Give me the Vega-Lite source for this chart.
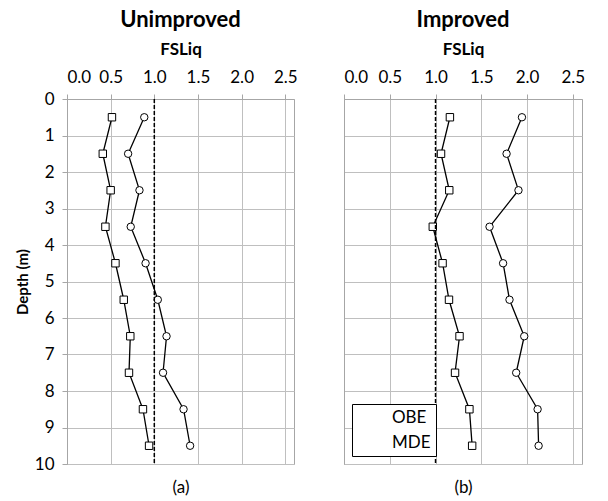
{
  "$schema": "https://vega.github.io/schema/vega-lite/v6.json",
  "background": "white",
  "padding": {"left": 14, "right": 5, "top": 8, "bottom": 5},
  "config": {
    "font": "Lato",
    "view": {"stroke": "#a6a6a6"},
    "axis": {"labelFont": "Lato", "titleFont": "Lato", "labelFontSize": 17, "labelColor": "black", "gridColor": "#bfbfbf", "domainColor": "#a6a6a6", "tickColor": "#a6a6a6", "titleColor": "black"},
    "title": {"font": "Lato", "fontSize": 22, "fontWeight": "bold", "color": "black"},
    "legend": {"labelFont": "Lato"}
  },
  "datasets": {
    "d": [
      {"panel": "U", "series": "OBE", "depth": 0.5, "fs": 0.885},
      {"panel": "U", "series": "OBE", "depth": 1.5, "fs": 0.70},
      {"panel": "U", "series": "OBE", "depth": 2.5, "fs": 0.83},
      {"panel": "U", "series": "OBE", "depth": 3.5, "fs": 0.73},
      {"panel": "U", "series": "OBE", "depth": 4.5, "fs": 0.90},
      {"panel": "U", "series": "OBE", "depth": 5.5, "fs": 1.04},
      {"panel": "U", "series": "OBE", "depth": 6.5, "fs": 1.14},
      {"panel": "U", "series": "OBE", "depth": 7.5, "fs": 1.10},
      {"panel": "U", "series": "OBE", "depth": 8.5, "fs": 1.335},
      {"panel": "U", "series": "OBE", "depth": 9.5, "fs": 1.41},
      {"panel": "U", "series": "MDE", "depth": 0.5, "fs": 0.515},
      {"panel": "U", "series": "MDE", "depth": 1.5, "fs": 0.41},
      {"panel": "U", "series": "MDE", "depth": 2.5, "fs": 0.50},
      {"panel": "U", "series": "MDE", "depth": 3.5, "fs": 0.44},
      {"panel": "U", "series": "MDE", "depth": 4.5, "fs": 0.555},
      {"panel": "U", "series": "MDE", "depth": 5.5, "fs": 0.65},
      {"panel": "U", "series": "MDE", "depth": 6.5, "fs": 0.725},
      {"panel": "U", "series": "MDE", "depth": 7.5, "fs": 0.71},
      {"panel": "U", "series": "MDE", "depth": 8.5, "fs": 0.87},
      {"panel": "U", "series": "MDE", "depth": 9.5, "fs": 0.94},
      {"panel": "I", "series": "OBE", "depth": 0.5, "fs": 1.944},
      {"panel": "I", "series": "OBE", "depth": 1.5, "fs": 1.776},
      {"panel": "I", "series": "OBE", "depth": 2.5, "fs": 1.906},
      {"panel": "I", "series": "OBE", "depth": 3.5, "fs": 1.59},
      {"panel": "I", "series": "OBE", "depth": 4.5, "fs": 1.738},
      {"panel": "I", "series": "OBE", "depth": 5.5, "fs": 1.808},
      {"panel": "I", "series": "OBE", "depth": 6.5, "fs": 1.969},
      {"panel": "I", "series": "OBE", "depth": 7.5, "fs": 1.881},
      {"panel": "I", "series": "OBE", "depth": 8.5, "fs": 2.115},
      {"panel": "I", "series": "OBE", "depth": 9.5, "fs": 2.126},
      {"panel": "I", "series": "MDE", "depth": 0.5, "fs": 1.157},
      {"panel": "I", "series": "MDE", "depth": 1.5, "fs": 1.06},
      {"panel": "I", "series": "MDE", "depth": 2.5, "fs": 1.15},
      {"panel": "I", "series": "MDE", "depth": 3.5, "fs": 0.97},
      {"panel": "I", "series": "MDE", "depth": 4.5, "fs": 1.077},
      {"panel": "I", "series": "MDE", "depth": 5.5, "fs": 1.147},
      {"panel": "I", "series": "MDE", "depth": 6.5, "fs": 1.262},
      {"panel": "I", "series": "MDE", "depth": 7.5, "fs": 1.213},
      {"panel": "I", "series": "MDE", "depth": 8.5, "fs": 1.37},
      {"panel": "I", "series": "MDE", "depth": 9.5, "fs": 1.40}
    ]
  },
  "resolve": {"scale": {"shape": "independent"}, "legend": {"shape": "independent"}},
  "spacing": 45,
  "hconcat": [
    {
      "width": 227, "height": 365,
      "title": {"text": "Unimproved", "offset": 8},
      "data": {"name": "d"},
      "transform": [{"filter": "datum.panel === 'U'"}],
      "resolve": {"axis": {"x": "independent"}},
      "layer": [
        {
          "mark": {"type": "line", "color": "black", "strokeWidth": 1.3},
          "encoding": {
            "x": {"field": "fs", "type": "quantitative", "scale": {"domain": [0, 2.5]},
              "axis": {"orient": "top", "values": [0, 0.5, 1, 1.5, 2, 2.5], "format": ".1f", "grid": true, "title": "FSLiq", "titleFontSize": 17, "titleFontWeight": "bold", "titlePadding": 10, "labelPadding": 8}},
            "y": {"field": "depth", "type": "quantitative", "scale": {"domain": [0, 10], "reverse": true},
              "axis": {"values": [0,1,2,3,4,5,6,7,8,9,10], "grid": true, "title": "Depth (m)", "titleFontSize": 15, "titleFontWeight": "bold", "titlePadding": 4, "labelPadding": 8}},
            "detail": {"field": "series"},
            "order": {"field": "depth"}
          }
        },
        {
          "mark": {"type": "point", "filled": false, "color": "black", "fill": "white", "stroke": "black", "strokeWidth": 1, "size": 55, "opacity": 1, "fillOpacity": 1},
          "encoding": {
            "x": {"field": "fs", "type": "quantitative", "axis": null},
            "y": {"field": "depth", "type": "quantitative", "scale": {"domain": [0, 10], "reverse": true},
              "axis": {"values": [0,1,2,3,4,5,6,7,8,9,10], "grid": true, "title": "Depth (m)", "titleFontSize": 15, "titleFontWeight": "bold", "titlePadding": 4, "labelPadding": 8}},
            "shape": {"field": "series", "type": "nominal", "scale": {"domain": ["OBE", "MDE"], "range": ["circle", "square"]}, "legend": null}
          }
        },
        {
          "data": {"values": [{"v": 1}]},
          "mark": {"type": "rule", "color": "black", "strokeWidth": 1.5, "strokeDash": [4, 2]},
          "encoding": {
            "x": {"datum": 1, "type": "quantitative", "axis": {"orient": "bottom", "labels": false, "ticks": false, "domain": false, "grid": false, "title": "(a)", "titleFontSize": 17, "titleFontWeight": "normal", "titlePadding": 15}}
          }
        }
      ]
    },
    {
      "width": 238, "height": 365,
      "title": {"text": "Improved", "offset": 8},
      "data": {"name": "d"},
      "transform": [{"filter": "datum.panel === 'I'"}],
      "resolve": {"axis": {"x": "independent"}},
      "layer": [
        {
          "mark": {"type": "line", "color": "black", "strokeWidth": 1.3},
          "encoding": {
            "x": {"field": "fs", "type": "quantitative", "scale": {"domain": [0, 2.5]},
              "axis": {"orient": "top", "values": [0, 0.5, 1, 1.5, 2, 2.5], "format": ".1f", "grid": true, "title": "FSLiq", "titleFontSize": 17, "titleFontWeight": "bold", "titlePadding": 10, "labelPadding": 8}},
            "y": {"field": "depth", "type": "quantitative", "scale": {"domain": [0, 10], "reverse": true},
              "axis": {"values": [0,1,2,3,4,5,6,7,8,9,10], "grid": true, "labels": false, "ticks": false, "title": null}},
            "detail": {"field": "series"},
            "order": {"field": "depth"}
          }
        },
        {
          "mark": {"type": "point", "filled": false, "color": "black", "fill": "white", "stroke": "black", "strokeWidth": 1, "size": 55, "opacity": 1, "fillOpacity": 1},
          "encoding": {
            "x": {"field": "fs", "type": "quantitative", "axis": null},
            "y": {"field": "depth", "type": "quantitative", "scale": {"domain": [0, 10], "reverse": true},
              "axis": {"values": [0,1,2,3,4,5,6,7,8,9,10], "grid": true, "labels": false, "ticks": false, "title": null}},
            "shape": {"field": "series", "type": "nominal", "scale": {"domain": ["OBE", "MDE"], "range": ["circle", "square"]},
              "legend": {"title": null, "orient": "bottom-left", "offset": 8, "padding": 5, "strokeColor": "black", "fillColor": "white", "labelFontSize": 17, "labelColor": "black", "symbolSize": 60, "symbolStrokeColor": "black", "symbolFillColor": "white", "symbolStrokeWidth": 1, "symbolOpacity": 1, "symbolOffset": 8, "rowPadding": 7, "labelOffset": 10}}
          }
        },
        {
          "data": {"values": [{"v": 1}]},
          "mark": {"type": "rule", "color": "black", "strokeWidth": 1.5, "strokeDash": [4, 2]},
          "encoding": {
            "x": {"datum": 1, "type": "quantitative", "axis": {"orient": "bottom", "labels": false, "ticks": false, "domain": false, "grid": false, "title": "(b)", "titleFontSize": 17, "titleFontWeight": "normal", "titlePadding": 15}}
          }
        }
      ]
    }
  ]
}
